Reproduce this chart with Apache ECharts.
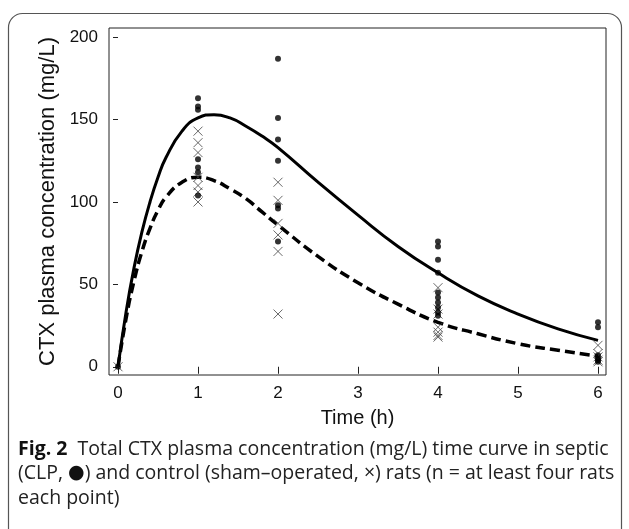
<!DOCTYPE html>
<html>
<head>
<meta charset="utf-8">
<script src="https://cdn.jsdelivr.net/npm/echarts@6/dist/echarts.min.js"></script>
<style>html,body{margin:0;padding:0;background:#fff}#c{width:629px;height:529px}</style>
</head>
<body>
<div id="c"></div>
<script>
// ---- data ----
const sampleTimes = [0, 1, 2, 4, 6];
const septicObs = [
  [0],
  [163, 158, 156, 126, 121, 118, 104],
  [187, 151, 138, 125, 98, 96, 76],
  [76, 73, 65, 57, 45, 42, 39, 36, 33, 31],
  [27, 24, 7, 5, 4, 3]
];
const shamObs = [
  [0],
  [143, 136, 130, 115, 110, 106, 100],
  [112, 101, 87, 80, 70, 32],
  [48, 35, 32, 24, 21, 19, 18],
  [13, 8, 6, 4, 3]
];
const curveTimes = [0, 0.1, 0.2, 0.3, 0.4, 0.5, 0.6, 0.8, 1.0, 1.2, 1.4, 1.6, 1.8, 2.0, 2.5, 3.0, 3.5, 4.0, 4.5, 5.0, 5.5, 6.0];
const septicFit = [0, 33, 60, 82, 100, 115, 127, 143, 151, 153, 151, 146, 140, 133, 112, 92, 73, 57, 43, 32, 23, 16];
const shamFit = [0, 29, 52, 70, 84, 95, 103, 112, 115, 113, 108, 102, 94, 86, 67, 51, 38, 27, 20, 14, 10, 6.5];
const xTicks = [0, 1, 2, 3, 4, 5, 6];
const yTicks = [0, 50, 100, 150, 200];
const captionLines = [
  [['b', 'Fig. 2'], ['n', '  Total CTX plasma concentration (mg/L) time curve in septic']],
  [['n', '(CLP, '], ['dot', '\u25CF'], ['n', ') and control (sham\u2013operated, \u00D7) rats (n = at least four rats']],
  [['n', 'each point)']]
];

// ---- build ----
function pairs(times, groups) {
  const out = [];
  groups.forEach((g, i) => g.forEach(v => out.push([times[i], v])));
  return out;
}
const zip = (a, b) => a.map((t, i) => [t, b[i]]);

const chart = echarts.init(document.getElementById('c'), null, {renderer: 'canvas'});
const axisFont = 'Liberation Sans, Arial, sans-serif';
const capFont = '"Open Sans", "Noto Sans", sans-serif';

const captionGraphics = captionLines.map((ln, i) => ({
  type: 'text',
  left: 18,
  top: 439 + i * 24.5,
  style: {
    text: ln.map(p => '{' + p[0] + '|' + p[1] + '}').join(''),
    rich: {
      b: {fontFamily: capFont, fontSize: 19.5, fontWeight: 'bold', fill: '#111'},
      n: {fontFamily: capFont, fontSize: 19.5, fill: '#222'},
      dot: {fontFamily: 'DejaVu Sans, sans-serif', fontSize: 19, fill: '#111'}
    }
  }
}));

chart.setOption({
  animation: false,
  backgroundColor: '#fff',
  grid: {left: 109, right: 23, top: 28, bottom: 154, show: true, borderColor: '#222', borderWidth: 1},
  xAxis: {
    type: 'value', min: -0.1125, max: 6.1,
    axisLine: {show: false},
    splitLine: {show: false},
    axisTick: {show: true, length: 7, lineStyle: {color: '#222'}, customValues: xTicks},
    axisLabel: {customValues: xTicks, fontFamily: axisFont, fontSize: 17, color: '#111', margin: 10},
    name: 'Time (h)', nameLocation: 'middle', nameGap: 33,
    nameTextStyle: {fontFamily: axisFont, fontSize: 20, color: '#111'}
  },
  yAxis: {
    type: 'value', min: -5, max: 205.6,
    axisLine: {show: false},
    splitLine: {show: false},
    axisTick: {show: true, length: 5, lineStyle: {color: '#222'}, customValues: yTicks},
    axisLabel: {customValues: yTicks, fontFamily: axisFont, fontSize: 17, color: '#111', margin: 11},
    name: 'CTX plasma concentration (mg/L)', nameLocation: 'middle', nameGap: 50,
    nameTextStyle: {fontFamily: axisFont, fontSize: 22, color: '#111'}
  },
  series: [
    {type: 'line', data: zip(curveTimes, septicFit), smooth: true, symbol: 'none',
     lineStyle: {color: '#000', width: 3}, z: 2},
    {type: 'line', data: zip(curveTimes, shamFit), smooth: true, symbol: 'none',
     lineStyle: {color: '#000', width: 3.5, type: [10, 5]}, z: 2},
    {type: 'scatter', data: pairs(sampleTimes, shamObs), symbol: 'path://M0,0L10,10M0,10L10,0',
     symbolSize: 9, itemStyle: {color: 'none', borderColor: '#444', borderWidth: 1}, z: 3},
    {type: 'scatter', data: pairs(sampleTimes, septicObs), symbol: 'circle', symbolSize: 6,
     itemStyle: {color: '#000'}, z: 4}
  ],
  graphic: [
    {type: 'rect', shape: {x: 8.5, y: 13.5, width: 613, height: 560, r: 14},
     style: {fill: 'none', stroke: '#555', lineWidth: 1.2}, silent: true}
  ].concat(captionGraphics)
});
</script>
</body>
</html>
